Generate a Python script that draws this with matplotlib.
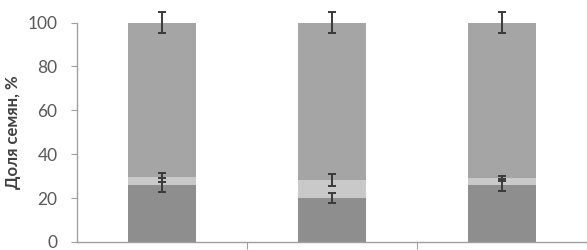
import matplotlib
matplotlib.use("Agg")
import matplotlib.pyplot as plt
import numpy as np

categories = ["A", "B", "C"]
bottom_vals = [26.0, 20.0, 26.0]
middle_vals = [3.4, 8.2, 3.0]
top_vals = [100 - b - m for b, m in zip(bottom_vals, middle_vals)]
err_bottom = [3.0, 2.3, 2.9]
err_middle = [2.0, 2.6, 1.0]
err_top = [5.0, 5.0, 5.0]
yticks = [0, 20, 40, 60, 80, 100]

plt.rcParams['font.family'] = ['Lato', 'DejaVu Sans']

fig = plt.figure(figsize=(5.87, 2.5), dpi=100)
ax = fig.add_axes([77/587, 8/250, 1 - 77/587, (242 - 22.5)/250])

x = np.arange(len(categories))
w = 0.4
c_dark = "#8e8e8e"
c_light = "#c9c9c9"
c_top = "#a5a5a5"
ax.bar(x, bottom_vals, w, color=c_dark, zorder=2)
ax.bar(x, middle_vals, w, bottom=bottom_vals, color=c_light, zorder=2)
mid_top = [b + m for b, m in zip(bottom_vals, middle_vals)]
ax.bar(x, top_vals, w, bottom=mid_top, color=c_top, zorder=2)

ekw = dict(fmt='none', ecolor='#3a3a3a', elinewidth=1.4, capsize=3, capthick=1.4, zorder=3, clip_on=False)
ax.errorbar(x, bottom_vals, yerr=err_bottom, **ekw)
ax.errorbar(x, mid_top, yerr=err_middle, **ekw)
ax.errorbar(x, [100]*3, yerr=err_top, **ekw)

ax.set_xlim(-0.5, 2.5)
ax.set_ylim(0, 100)
ax.set_yticks(yticks)
ax.set_yticklabels([str(t) for t in yticks], fontsize=12.5, color="#595959")
ax.set_xticks([0.5, 1.5, 2.5])
ax.set_xticklabels([])
ax.tick_params(axis='x', length=5, color="#a0a0a0", direction='out')
ax.tick_params(axis='y', length=4, color="#a0a0a0", direction='out', pad=10)
for s in ['top', 'right']:
    ax.spines[s].set_visible(False)
for s in ['left', 'bottom']:
    ax.spines[s].set_color("#a0a0a0")
    ax.spines[s].set_linewidth(1.0)
ax.set_ylabel("Доля семян, %", fontsize=12, fontweight='bold', color="#404040", labelpad=5)

fig.savefig("out.png", dpi=100)
